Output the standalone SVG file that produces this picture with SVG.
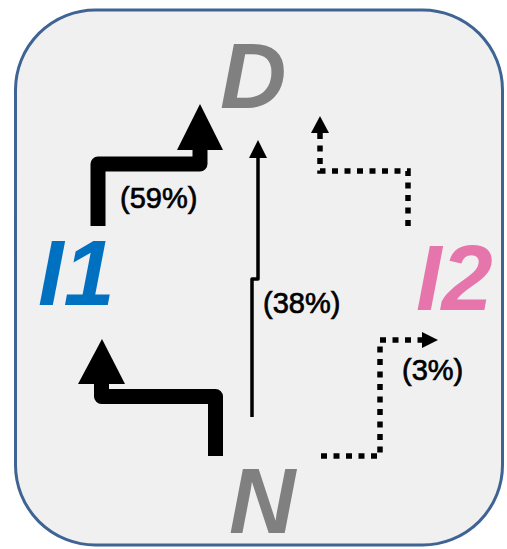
<svg xmlns="http://www.w3.org/2000/svg" width="507" height="549" viewBox="0 0 507 549">
<style>
.big{font-family:"Liberation Sans",Arial,sans-serif;font-weight:bold;font-style:italic;font-size:92px}
.pct{font-family:"Liberation Sans",Arial,sans-serif;font-size:29px;fill:#000;stroke:#000;stroke-width:0.7}
.thick{fill:none;stroke:#000;stroke-width:15;stroke-linejoin:round}
.thin{fill:none;stroke:#000;stroke-width:3.5;stroke-linejoin:round}
.dot{fill:none;stroke:#000;stroke-width:5.5;stroke-dasharray:6 6.5}
</style>
<rect x="15.5" y="10" width="487" height="535" rx="80" ry="80" fill="#f0f0f0" stroke="#3f6494" stroke-width="3"/>
<g id="D"><text class="big" x="220" y="108" fill="#808080">D</text></g>
<g id="I1"><text class="big" x="38" y="305" fill="#0070c0">I1</text></g>
<g id="I2"><text class="big" x="416" y="310" fill="#e575aa">I2</text></g>
<g id="N"><text class="big" x="229" y="533" fill="#808080">N</text></g>
<g id="connectors">
<path class="thick" d="M98 226 V164 H200 V148"/>
<polygon points="200,104 223,150 177,150"/>
<text class="pct" x="120" y="208">(59%)</text>
<path class="thick" d="M215.5 456 V396.5 H101.5 V382"/>
<polygon points="102,339 125,384 78,384"/>
<path class="thin" d="M252 417 V279 H258 V155"/>
<polygon points="258,140 267,158 249,158"/>
<text class="pct" x="263" y="313">(38%)</text>
<path class="dot" d="M408 226 V171 H320 V132"/>
<polygon points="320,116 329,133 311,133"/>
<path class="dot" d="M321 456 H380 V340 H423"/>
<polygon points="438,340 422,332 422,348"/>
<text class="pct" x="402" y="380">(3%)</text>
</g>
</svg>
